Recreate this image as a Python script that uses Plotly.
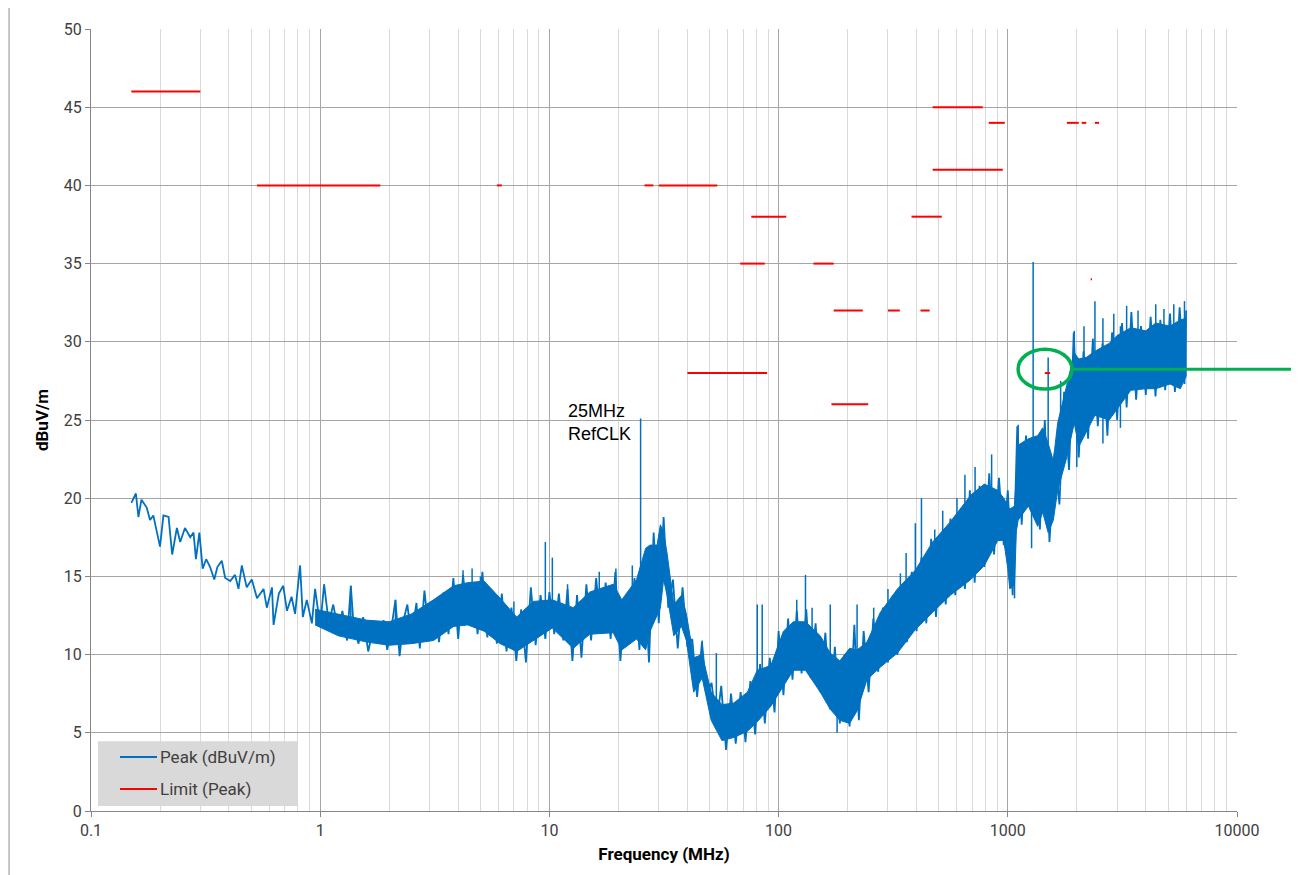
import plotly.graph_objects as go

# ---------------- data ----------------
# Peak trace as a polyline (MHz, dBuV/m): noisy line at low frequency,
# then alternating crest / trough readings across the dense noise band
peak_freq = [0.150, 0.157, 0.161, 0.166, 0.175, 0.181, 0.187, 0.200, 0.207, 0.218,
             0.226, 0.237, 0.245, 0.257, 0.271, 0.280, 0.287, 0.297, 0.307, 0.318,
             0.331, 0.345, 0.356, 0.372, 0.385, 0.405, 0.425, 0.440, 0.455, 0.478,
             0.503, 0.530, 0.566, 0.585, 0.616, 0.626, 0.660, 0.690, 0.716, 0.750,
             0.777, 0.817, 0.840, 0.874, 0.920, 0.950, 1.00, 1.04, 1.09, 1.14,
             1.20, 1.25, 1.31, 1.36, 1.40, 1.47, 1.54, 1.62, 1.71, 1.80,
             1.89, 1.96, 2.05, 2.13, 2.22, 2.31, 2.40, 2.50, 2.63,
             2.72, 2.85, 3.0, 3.15, 3.3, 3.46, 3.63, 3.81, 4.0, 4.2,
             4.41, 4.63, 4.86, 5.1, 5.36, 5.62, 5.9, 6.2, 6.5, 6.83,
             7.17, 7.53, 7.9, 8.3, 8.71, 9.15, 9.6, 10.0, 10.5, 11.0,
             11.5, 12.0, 12.6, 13.2, 13.8, 14.5, 15.2, 16.0, 16.8, 17.6,
             18.5, 19.4, 20.4, 21.4, 22.4, 23.5, 24.7, 25.9, 27.2, 28.5,
             30.0, 31.5, 33.0, 34.6, 36.3, 38.1, 40.0, 42.0, 44.1, 46.3,
             48.6, 51.0, 53.6, 56.2, 59.0, 62.0, 65.0, 68.3, 71.7, 75.3,
             79.0, 83.0, 87.1, 91.5, 96.0, 100, 105, 110, 115, 120,
             126, 132, 138, 145, 152, 160, 168, 176, 185, 194,
             204, 214, 224, 235, 247, 259, 272, 285, 300, 315,
             330, 346, 363, 381, 400, 420, 441, 463, 486, 510,
             536, 562, 590, 620, 650, 683, 717, 753, 790, 830,
             871, 915, 960, 1000, 1050, 1100, 1150, 1200, 1260, 1320,
             1380, 1450, 1520, 1600, 1680, 1760, 1850, 1940, 2040, 2140,
             2240, 2350, 2470, 2590, 2720, 2850, 3000, 3150, 3300, 3460,
             3630, 3810, 4000, 4200, 4410, 4630, 4860, 5100, 5360, 5620,
             5900, 6000]
peak_val = [19.7, 20.3, 18.8, 19.9, 19.4, 18.6, 18.9, 16.9, 18.9, 18.8,
            16.4, 18.1, 17.2, 18.1, 17.5, 17.8, 16.1, 17.8, 15.5, 16.1,
            15.6, 14.8, 15.6, 16.0, 14.9, 14.7, 15.1, 14.2, 15.7, 14.3,
            14.8, 13.6, 14.2, 13.0, 14.3, 11.9, 13.9, 14.4, 12.8, 13.7,
            12.6, 15.7, 12.4, 13.5, 12.0, 14.2, 11.8, 14.5, 12.0, 13.2,
            11.5, 12.8, 10.9, 14.4, 11.8, 10.7, 12.4, 10.2, 11.8, 10.7,
            12.2, 10.3, 11.8, 13.5, 9.9, 12.2, 13.2, 11.1, 13.3,
            10.4, 14.1, 10.9, 13.5, 10.8, 14.0, 11.3, 14.9, 11.0, 15.1,
            11.9, 14.6, 11.3, 15.3, 11.1, 14.0, 10.7, 13.9, 10.2, 13.0,
            9.6, 12.9, 9.5, 14.3, 10.6, 13.8, 11.0, 14.0, 11.3, 13.9,
            10.9, 14.2, 9.6, 13.8, 9.8, 14.5, 10.9, 14.9, 11.4, 14.6,
            11.0, 15.3, 9.6, 13.6, 10.7, 14.9, 10.3, 15.6, 9.5, 17.8,
            12.0, 18.8, 13.0, 14.8, 10.4, 14.3, 10.5, 11.0, 7.3, 10.8,
            7.5, 8.2, 5.5, 8.0, 3.9, 7.5, 4.3, 7.6, 4.4, 8.3,
            4.9, 9.4, 5.6, 9.8, 6.3, 11.5, 7.4, 12.3, 8.4, 12.8,
            8.8, 12.9, 8.5, 12.0, 7.6, 11.4, 6.5, 10.5, 5.6, 10.0,
            5.4, 11.9, 5.8, 11.5, 7.6, 12.3, 8.9, 13.0, 9.5, 13.8,
            10.0, 14.4, 10.8, 15.3, 11.5, 16.2, 12.0, 17.4, 12.4, 17.6,
            13.2, 18.7, 13.8, 19.0, 14.2, 20.5, 14.6, 20.8, 15.6, 21.6,
            16.4, 21.3, 17.0, 20.5, 13.8, 24.6, 18.3, 24.0, 19.2, 23.8,
            18.0, 25.0, 17.2, 22.9, 19.6, 26.8, 21.8, 30.6, 22.6, 29.4,
            23.8, 30.2, 24.6, 29.9, 24.0, 30.6, 25.0, 31.2, 25.8, 31.9,
            26.3, 31.0, 26.6, 31.6, 26.5, 31.4, 26.9, 31.8, 26.8, 32.2,
            27.3, 32.0]

# Solid core of the noise band (upper / lower edge)
core_freq = [0.95, 1.2, 1.6, 2.0, 2.5, 3.12, 3.82, 4.4, 5.19, 6.1,
             7.2, 8.5, 10.3, 12.7, 15, 19, 20.7, 24, 26.3, 27.5,
             29.5, 30.5, 31.5, 32.6, 34.9, 37.7, 39.6, 42.6, 46.4, 50.8,
             56.6, 63.7, 73.1, 80.7, 92.5, 105, 116, 131, 152, 168,
             185, 204, 220, 243, 278, 330, 395, 470, 562, 690,
             790, 905, 960, 1000, 1020, 1070, 1090, 1110, 1230, 1350,
             1420, 1500, 1580, 1650, 1800, 1950, 2040, 2200, 2400, 2770,
             3000, 3440, 4000, 4420, 5100, 5660, 6000]
core_hi = [12.9, 12.6, 12.2, 12.1, 12.6, 13.5, 14.4, 14.6, 14.7, 13.6,
           12.4, 13.4, 13.5, 13.0, 14.0, 14.5, 13.5, 14.8, 16.8, 17.0,
           17.0, 18.3, 17.8, 16.5, 13.2, 13.8, 12.6, 9.8, 10.0, 7.6,
           6.8, 6.9, 7.6, 9.0, 9.3, 11.5, 12.1, 12.1, 11.2, 10.1,
           9.6, 10.4, 10.3, 10.8, 12.7, 14.2, 15.4, 17.2, 18.5, 20.2,
           20.9, 20.5, 20.0, 19.5, 19.3, 19.5, 21.5, 23.4, 23.8, 24.0,
           24.5, 23.5, 22.4, 24.8, 27.1, 29.3, 28.9, 29.0, 29.4, 29.9,
           30.4, 30.9, 30.7, 31.2, 31.0, 31.4, 31.5]
core_lo = [11.9, 11.2, 10.8, 10.6, 10.7, 10.9, 11.8, 11.9, 11.5, 10.7,
           10.2, 10.9, 11.7, 10.4, 11.3, 11.4, 10.3, 11.0, 10.3, 11.5,
           12.5, 13.0, 14.8, 13.8, 11.2, 11.8, 10.9, 7.6, 8.5, 5.8,
           4.5, 4.7, 5.1, 5.7, 6.7, 8.0, 9.0, 9.0, 7.6, 6.5,
           5.8, 5.6, 6.4, 8.4, 9.2, 10.1, 11.6, 12.7, 13.8, 14.8,
           15.7, 17.3, 17.3, 15.5, 14.2, 14.5, 17.9, 18.6, 19.5, 18.2,
           19.1, 17.8, 18.6, 20.5, 22.5, 24.8, 23.3, 24.2, 25.3, 25.0,
           25.7, 26.9, 27.0, 27.0, 27.3, 27.0, 27.8]

# Isolated narrow spikes / notches of the peak trace
spike_freq = [1.36, 2.13, 4.2, 4.6, 5.0, 7.0, 9.6, 10.3, 12.0, 16.5,
              19.5, 23.0, 25.0, 46.4, 53.5, 80.7, 84.8, 120, 131, 140,
              168, 180, 220, 260, 300, 340, 360, 395, 420, 480,
              520, 600, 650, 720, 850, 1070, 1110, 1270, 1290, 1500,
              1700, 1950, 2000, 2150, 2400, 2600, 2900, 3100, 3300, 3700,
              4420, 4800, 5300, 5900]
spike_top = [14.4, 13.5, 15.4, 15.5, 15.0, 13.4, 17.2, 16.2, 14.5, 15.3,
             15.5, 15.7, 25.1, 10.9, 10.1, 13.2, 13.2, 13.5, 15.1, 13.0,
             13.2, 9.0, 13.2, 13.0, 14.2, 15.2, 16.5, 18.4, 20.0, 18.0,
             19.2, 20.0, 21.5, 22.0, 22.8, 19.0, 24.7, 22.0, 35.1, 29.0,
             27.5, 30.7, 27.0, 31.0, 32.6, 31.5, 31.8, 31.0, 32.3, 32.0,
             32.4, 32.1, 32.4, 32.6]
spike_base = [12.0, 11.5, 12.5, 12.5, 12.3, 11.0, 13.0, 13.0, 12.0, 12.5,
              12.5, 13.0, 14.0, 8.5, 6.5, 6.5, 7.5, 10.5, 10.0, 10.5,
              8.0, 5.0, 7.0, 10.0, 11.0, 12.0, 12.5, 13.0, 14.0, 15.0,
              16.0, 17.0, 18.0, 18.0, 19.0, 13.6, 19.0, 16.8, 20.0, 20.0,
              21.5, 26.0, 22.0, 26.0, 27.0, 23.5, 27.0, 24.5, 28.0, 28.0,
              28.0, 28.0, 28.0, 28.0]

# Limit (Peak) segments
limit_start = [0.15, 0.53, 5.9, 26, 30, 40, 68, 76, 142, 170, 174,
               300, 380, 416, 470, 470, 826, 1450, 1810, 2100, 2300, 2400]
limit_stop = [0.30, 1.83, 6.2, 28.4, 54, 89, 87, 108, 174, 246, 233,
              338, 515, 456, 778, 951, 970, 1530, 2040, 2200, 2330, 2500]
limit_level = [46, 40, 40, 40, 40, 28, 35, 38, 35, 26, 32,
               32, 38, 32, 45, 41, 44, 28, 44, 44, 34, 44]

x_tick_vals = [0.1, 1, 10, 100, 1000, 10000]
x_tick_text = ["0.1", "1", "10", "100", "1000", "10000"]
y_tick_vals = [0, 5, 10, 15, 20, 25, 30, 35, 40, 45, 50]

series_names = ["Peak (dBuV/m)", "Limit (Peak)"]

# ---------------- figure ----------------
BLUE = "#0070C0"
RED = "#FF0000"
GREEN = "#00B050"
FONT = "Roboto, Liberation Sans, sans-serif"

fig = go.Figure()

# solid core of the band
fig.add_trace(go.Scatter(
    x=core_freq + core_freq[::-1],
    y=core_hi + core_lo[::-1],
    fill="toself", fillcolor=BLUE, mode="lines",
    line=dict(color=BLUE, width=1),
    showlegend=False, hoverinfo="skip"))

# spikes
sx, sy = [], []
for f, b, t in zip(spike_freq, spike_base, spike_top):
    sx += [f, f, None]
    sy += [b, t, None]
fig.add_trace(go.Scatter(x=sx, y=sy, mode="lines",
                         line=dict(color=BLUE, width=1.5),
                         showlegend=False, hoverinfo="skip"))

# peak polyline
fig.add_trace(go.Scatter(x=peak_freq, y=peak_val, mode="lines",
                         line=dict(color=BLUE, width=1.8),
                         name=series_names[0], showlegend=False))

# limit segments
lx, ly = [], []
for a, b, v in zip(limit_start, limit_stop, limit_level):
    lx += [a, b, None]
    ly += [v, v, None]
fig.add_trace(go.Scatter(x=lx, y=ly, mode="lines",
                         line=dict(color=RED, width=2),
                         name=series_names[1], showlegend=False))

tick_font = dict(family=FONT, size=16, color="#404040")
title_font = dict(family=FONT, size=17, color="#000000")

fig.update_layout(
    width=1291, height=867,
    margin=dict(l=83, r=62, t=19, b=64),
    paper_bgcolor="white", plot_bgcolor="white",
    showlegend=False,
    xaxis=dict(
        type="log", range=[-1, 4],
        tickvals=x_tick_vals, ticktext=x_tick_text,
        tickfont=tick_font,
        showgrid=True, gridcolor="#A6A6A6", gridwidth=1,
        minor=dict(dtick="D1", showgrid=True, gridcolor="#D9D9D9", gridwidth=1),
        showline=True, linecolor="#868686", linewidth=1,
        ticks="outside", ticklen=5, tickcolor="#868686",
        zeroline=False,
        title=dict(text="<b>Frequency (MHz)</b>", font=title_font, standoff=8),
    ),
    yaxis=dict(
        range=[0, 50], tickvals=y_tick_vals,
        tickfont=tick_font,
        showgrid=True, gridcolor="#A6A6A6", gridwidth=1,
        showline=True, linecolor="#868686", linewidth=1,
        ticks="outside", ticklen=5, tickcolor="#868686",
        zeroline=False,
        title=dict(text="<b>dBuV/m</b>", font=title_font, standoff=10),
    ),
)

# legend box (drawn in paper coordinates to match the original layout)
fig.add_shape(type="rect", xref="paper", yref="paper", layer="above",
              x0=0.0061, x1=0.1806, y0=0.0064, y1=0.0893,
              fillcolor="#D9D9D9", line=dict(width=0))
for name, color, yy in zip(series_names, [BLUE, RED], [0.0689, 0.0281]):
    fig.add_shape(type="line", xref="paper", yref="paper", layer="above",
                  x0=0.0253, x1=0.0576, y0=yy, y1=yy,
                  line=dict(color=color, width=2))
    fig.add_annotation(xref="paper", yref="paper", x=0.0585, y=yy,
                       xanchor="left", yanchor="middle", showarrow=False,
                       text=name, font=dict(family=FONT, size=17, color="#404040"))

fig.add_annotation(
    xref="paper", yref="paper", x=0.4145, y=0.527,
    xanchor="left", yanchor="top", showarrow=False, align="left",
    text="25MHz<br>RefCLK",
    font=dict(family="Liberation Sans", size=18, color="#000000"))

# green highlight circle and leader line
fig.add_shape(type="circle", xref="paper", yref="paper",
              x0=0.809, x1=0.856, y0=0.5395, y1=0.5906,
              line=dict(color=GREEN, width=3.5))
fig.add_shape(type="line", xref="paper", yref="paper",
              x0=0.856, x1=1.06, y0=0.565, y1=0.565,
              line=dict(color=GREEN, width=3))

# outer chart frame edge on the left
fig.add_shape(type="line", xref="paper", yref="paper",
              x0=-0.0715, x1=-0.0715, y0=-0.2, y1=1.2,
              line=dict(color="#8C8C8C", width=1))

fig.write_html("out.html")
